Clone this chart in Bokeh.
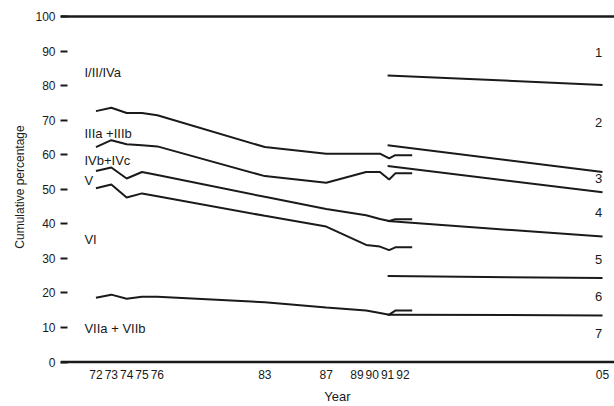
from bokeh.plotting import figure
from bokeh.models import Range1d, Span, FixedTicker, Label
from bokeh.embed import file_html
from bokeh.resources import INLINE

# ---- data ----
hist_years = [1972, 1973, 1974, 1975, 1976, 1983, 1987, 1989.6, 1990.5, 1991.1, 1991.5, 1992.6]
line_a = [72.6, 73.6, 72.05, 72.05, 71.4, 62.2, 60.3, 60.3, 60.3, 58.9, 59.85, 59.85]
line_b = [62.2, 64.2, 63.0, 62.7, 62.4, 53.8, 51.9, 55.0, 55.0, 52.8, 54.6, 54.6]
line_c = [55.3, 56.3, 53.1, 55.0, 54.1, 47.8, 44.3, 42.5, 41.4, 40.8, 41.3, 41.3]
line_d = [50.3, 51.4, 47.6, 48.8, 48.0, 42.3, 39.2, 33.9, 33.4, 32.4, 33.2, 33.2]
line_e = [18.6, 19.5, 18.3, 18.9, 18.9, 17.3, 15.8, 14.9, 14.2, 13.7, 14.9, 14.9]

proj_years = [1991, 2005]
proj_1 = [82.9, 80.2]
proj_2 = [62.7, 55.0]
proj_3 = [56.7, 49.1]
proj_4 = [40.8, 36.3]
proj_5 = [24.9, 24.3]
proj_6 = [13.7, 13.5]

class_labels = ["I/II/IVa", "IIIa +IIIb", "IVb+IVc", "V", "VI", "VIIa + VIIb"]
class_label_y = [83.8, 66.2, 58.4, 52.6, 35.4, 9.8]
proj_labels = ["1", "2", "3", "4", "5", "6", "7"]
proj_label_y = [89.6, 69.2, 53.2, 43.4, 29.6, 18.9, 8.2]

tick_years = [1972, 1973, 1974, 1975, 1976, 1983, 1987, 1989, 1990, 1991, 1992, 2005]
tick_labels = ["72", "73", "74", "75", "76", "83", "87", "89", "90", "91", "92", "05"]
y_ticks = [0, 10, 20, 30, 40, 50, 60, 70, 80, 90, 100]

FONT = "Liberation Sans"
INK = "#1a1a1a"

W, H = 614, 406
p = figure(width=W, height=H, output_backend="svg", toolbar_location=None,
           x_range=Range1d(1969.69, 2005.78), y_range=Range1d(-1.0, 102.3),
           min_border_left=60, min_border_right=0, min_border_top=8, min_border_bottom=40)
p.outline_line_color = None
p.xgrid.visible = False
p.ygrid.visible = False
p.background_fill_color = "white"
p.border_fill_color = "white"

for ys in [line_a, line_b, line_c, line_d, line_e]:
    p.line(hist_years, ys, line_color=INK, line_width=2)
for ys in [proj_1, proj_2, proj_3, proj_4, proj_5, proj_6]:
    p.line(proj_years, ys, line_color=INK, line_width=2)

for loc in [0, 100]:
    p.add_layout(Span(location=loc, dimension="width", line_color=INK, line_width=2.4))

for t, y in zip(class_labels, class_label_y):
    p.add_layout(Label(x=1971.25, y=y, text=t, text_font=FONT, text_font_size="13px",
                       text_color=INK, text_baseline="middle", text_align="left"))
for t, y in zip(proj_labels, proj_label_y):
    p.add_layout(Label(x=2004.74, y=y, text=t, text_font=FONT, text_font_size="13px",
                       text_color=INK, text_baseline="middle", text_align="center"))

# x axis
xa = p.xaxis[0]
xa.ticker = FixedTicker(ticks=tick_years)
xa.major_label_overrides = {yr: lab for yr, lab in zip(tick_years, tick_labels)}
xa.axis_line_color = None
xa.major_tick_line_color = None
xa.minor_tick_line_color = None
xa.major_label_standoff = -2
xa.major_label_text_font = FONT
xa.major_label_text_font_size = "12px"
xa.major_label_text_color = INK
xa.axis_label = "Year"
xa.axis_label_text_font = FONT
xa.axis_label_text_font_size = "13px"
xa.axis_label_text_font_style = "normal"
xa.axis_label_text_color = INK
xa.axis_label_standoff = 7

# y axis
ya = p.yaxis[0]
ya.ticker = FixedTicker(ticks=y_ticks)
ya.axis_line_color = None
ya.major_tick_in = 7
ya.major_tick_out = 0
ya.major_tick_line_color = INK
ya.major_tick_line_width = 2
ya.minor_tick_line_color = None
ya.major_label_standoff = 5
ya.major_label_text_font = FONT
ya.major_label_text_font_size = "12px"
ya.major_label_text_color = INK
ya.axis_label = "Cumulative percentage"
ya.axis_label_text_font = FONT
ya.axis_label_text_font_size = "12px"
ya.axis_label_text_font_style = "normal"
ya.axis_label_text_color = INK
ya.axis_label_standoff = 5

open("out.html", "w").write(file_html(p, INLINE))
